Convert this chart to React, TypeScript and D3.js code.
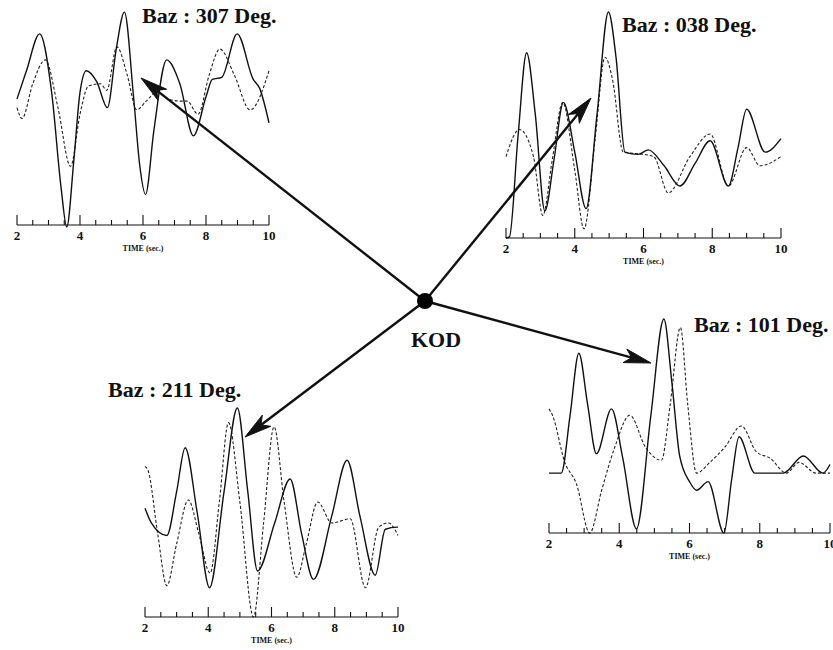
import React from "react";
import * as d3 from "d3";

// ---- Data: time (sec) vs normalised amplitude (0 = axis, 100 = top of trace box)
const tickLabels = ["2", "4", "6", "8", "10"];
const timeDomain = [2, 10];
const axisTitle = "TIME (sec.)";
const stationName = "KOD";

const baz307Solid: [number, number][] = [
  [2.0, 59], [2.3, 72], [2.72, 89], [3.1, 62], [3.4, 18], [3.58, 0], [3.8, 30], [4.0, 62], [4.2, 72], [4.53, 67],
  [4.87, 55], [5.15, 82], [5.41, 99], [5.7, 60], [5.9, 28], [6.08, 15], [6.35, 45], [6.75, 77], [7.17, 66],
  [7.6, 42], [8.0, 60], [8.2, 68], [8.5, 69], [8.99, 89], [9.5, 68], [9.7, 64], [10.0, 48],
];
const baz307Dashed: [number, number][] = [
  [2.0, 55], [2.16, 50], [2.5, 66], [2.9, 77], [3.3, 55], [3.7, 28], [4.0, 52], [4.27, 65], [4.65, 66],
  [4.85, 63], [5.17, 83], [5.5, 70], [5.8, 54], [6.1, 58], [6.43, 62], [6.8, 59], [7.2, 58], [7.4, 58],
  [7.75, 52], [8.1, 70], [8.44, 82], [8.9, 70], [9.4, 54], [10.0, 72],
];

const baz038Solid: [number, number][] = [
  [2.0, 0], [2.1, 0.5], [2.35, 45], [2.6, 82], [2.85, 55], [3.13, 12], [3.4, 35], [3.67, 60], [4.0, 38],
  [4.33, 13], [4.65, 55], [4.98, 100], [5.2, 80], [5.46, 38], [5.85, 37], [6.14, 39], [6.6, 32],
  [7.06, 23], [7.5, 33], [7.94, 43], [8.47, 23], [8.75, 40], [9.0, 57], [9.54, 38], [10.0, 44],
];
const baz038Dashed: [number, number][] = [
  [2.0, 36], [2.39, 48], [2.8, 36], [3.07, 10], [3.35, 35], [3.65, 60], [4.0, 30], [4.27, 4], [4.6, 45],
  [4.88, 80], [5.1, 70], [5.41, 38], [6.0, 37], [6.3, 36], [6.72, 20], [7.35, 36], [7.94, 46],
  [8.47, 23], [9.0, 40], [9.39, 32], [10.0, 36],
];

const baz101Solid: [number, number][] = [
  [2.0, 28], [2.35, 28], [2.6, 55], [2.85, 84], [3.1, 60], [3.35, 37], [3.78, 58], [4.1, 35], [4.49, 2],
  [4.9, 55], [5.27, 100], [5.5, 70], [5.72, 36], [6.0, 24], [6.2, 20], [6.53, 24], [6.98, 0], [7.2, 25],
  [7.41, 45], [7.86, 28], [8.67, 28], [9.24, 36], [9.8, 28], [10.0, 32],
];
const baz101Dashed: [number, number][] = [
  [2.0, 58], [2.1, 55], [2.45, 33], [2.78, 23], [3.16, 0], [3.5, 20], [3.87, 40], [4.3, 55], [4.75, 40],
  [5.2, 34], [5.45, 60], [5.74, 96], [5.95, 60], [6.2, 28], [6.58, 33], [7.0, 40], [7.48, 50],
  [7.9, 38], [8.29, 35], [8.76, 28], [9.12, 33], [9.6, 28], [10.0, 28],
];

const baz211Solid: [number, number][] = [
  [2.0, 52], [2.2, 45], [2.69, 39], [3.0, 60], [3.27, 81], [3.65, 50], [4.04, 14], [4.5, 60], [4.92, 100],
  [5.25, 60], [5.56, 22], [6.1, 45], [6.59, 66], [6.95, 40], [7.33, 18], [7.9, 48], [8.39, 75], [8.8, 48],
  [9.28, 20], [9.6, 42], [9.97, 43], [10.0, 43],
];
const baz211Dashed: [number, number][] = [
  [2.0, 72], [2.1, 70], [2.4, 40], [2.69, 15], [3.0, 35], [3.37, 56], [3.7, 40], [4.06, 21], [4.35, 55],
  [4.64, 93], [5.0, 55], [5.43, 0], [5.75, 45], [6.08, 91], [6.4, 55], [6.8, 19], [7.1, 35], [7.46, 55],
  [7.91, 45], [8.49, 47], [8.97, 14], [9.39, 43], [9.7, 45], [10.0, 39],
];

const titles = ["Baz : 307 Deg.", "Baz : 038 Deg.", "Baz : 101 Deg.", "Baz : 211 Deg."];

// ---- Layout
const panels = [
  { title: titles[0], solid: baz307Solid, dashed: baz307Dashed, x0: 17, x1: 269, bottom: 227, top: 10, axisY: 225, titleX: 142, titleY: 23 },
  { title: titles[1], solid: baz038Solid, dashed: baz038Dashed, x0: 506, x1: 781, bottom: 238, top: 12, axisY: 238, titleX: 622, titleY: 32 },
  { title: titles[2], solid: baz101Solid, dashed: baz101Dashed, x0: 549, x1: 830, bottom: 533, top: 319, axisY: 533, titleX: 694, titleY: 332 },
  { title: titles[3], solid: baz211Solid, dashed: baz211Dashed, x0: 145, x1: 398, bottom: 617, top: 408, axisY: 617, titleX: 108, titleY: 397 },
];

const center = { x: 425, y: 301 };
const arrowTips = [
  { x: 141, y: 78 },
  { x: 591, y: 98 },
  { x: 651, y: 363 },
  { x: 245, y: 437 },
];

const serif = "'Liberation Serif', 'Times New Roman', serif";

function Arrow({ tip }: { tip: { x: number; y: number } }) {
  const dx = tip.x - center.x;
  const dy = tip.y - center.y;
  const len = Math.hypot(dx, dy);
  const ux = dx / len;
  const uy = dy / len;
  const px = -uy;
  const py = ux;
  const headLen = 27;
  const halfW = 7;
  const notch = 20;
  const bx = tip.x - ux * headLen;
  const by = tip.y - uy * headLen;
  const nx = tip.x - ux * notch;
  const ny = tip.y - uy * notch;
  const head = `M${tip.x},${tip.y} L${bx + px * halfW},${by + py * halfW} L${nx},${ny} L${bx - px * halfW},${by - py * halfW} Z`;
  return (
    <g>
      <line x1={center.x} y1={center.y} x2={nx} y2={ny} stroke="#111" strokeWidth={2.4} />
      <path d={head} fill="#111" stroke="#111" strokeWidth={1} strokeLinejoin="miter" />
    </g>
  );
}

function Panel({ p }: { p: (typeof panels)[number] }) {
  const x = d3.scaleLinear().domain(timeDomain).range([p.x0, p.x1]);
  const y = d3.scaleLinear().domain([0, 100]).range([p.bottom, p.top]);
  const line = d3
    .line<[number, number]>()
    .x((d) => x(d[0]))
    .y((d) => y(d[1]))
    .curve(d3.curveMonotoneX);
  const ticks = d3.range(timeDomain[0], timeDomain[1] + 0.001, 0.5);
  const majors = x.ticks(4);
  return (
    <g>
      <path d={line(p.dashed) || ""} fill="none" stroke="#222" strokeWidth={1.1} strokeDasharray="3,2" />
      <path d={line(p.solid) || ""} fill="none" stroke="#111" strokeWidth={1.4} />
      <line x1={p.x0} x2={p.x1} y1={p.axisY} y2={p.axisY} stroke="#111" strokeWidth={1.2} />
      {ticks.map((t) => {
        const major = Math.abs(t % 2) < 1e-6;
        return (
          <line key={t} x1={x(t)} x2={x(t)} y1={p.axisY} y2={p.axisY - (major ? 10 : 5)} stroke="#111" strokeWidth={1.1} />
        );
      })}
      {majors.map((t, i) => (
        <text key={t} x={x(t)} y={p.axisY + 15} textAnchor="middle" fontFamily={serif} fontSize={13} fontWeight="bold" fill="#111">
          {tickLabels[i]}
        </text>
      ))}
      <text x={(p.x0 + p.x1) / 2} y={p.axisY + 26} textAnchor="middle" fontFamily={serif} fontSize={8} fontWeight="bold" fill="#111">
        {axisTitle}
      </text>
      <text x={p.titleX} y={p.titleY} fontFamily={serif} fontSize={22} fontWeight="bold" fill="#111">
        {p.title}
      </text>
    </g>
  );
}

export default function App() {
  return (
    <svg width={833} height={650} style={{ position: "absolute", left: 0, top: 0, background: "#fff" }}>
      <rect width={833} height={650} fill="#fff" />
      {panels.map((p, i) => (
        <Panel key={i} p={p} />
      ))}
      {arrowTips.map((t, i) => (
        <Arrow key={i} tip={t} />
      ))}
      <circle cx={center.x} cy={center.y} r={8} fill="#000" />
      <text x={411} y={347} fontFamily={serif} fontSize={22} fontWeight="bold" fill="#111">
        {stationName}
      </text>
    </svg>
  );
}
